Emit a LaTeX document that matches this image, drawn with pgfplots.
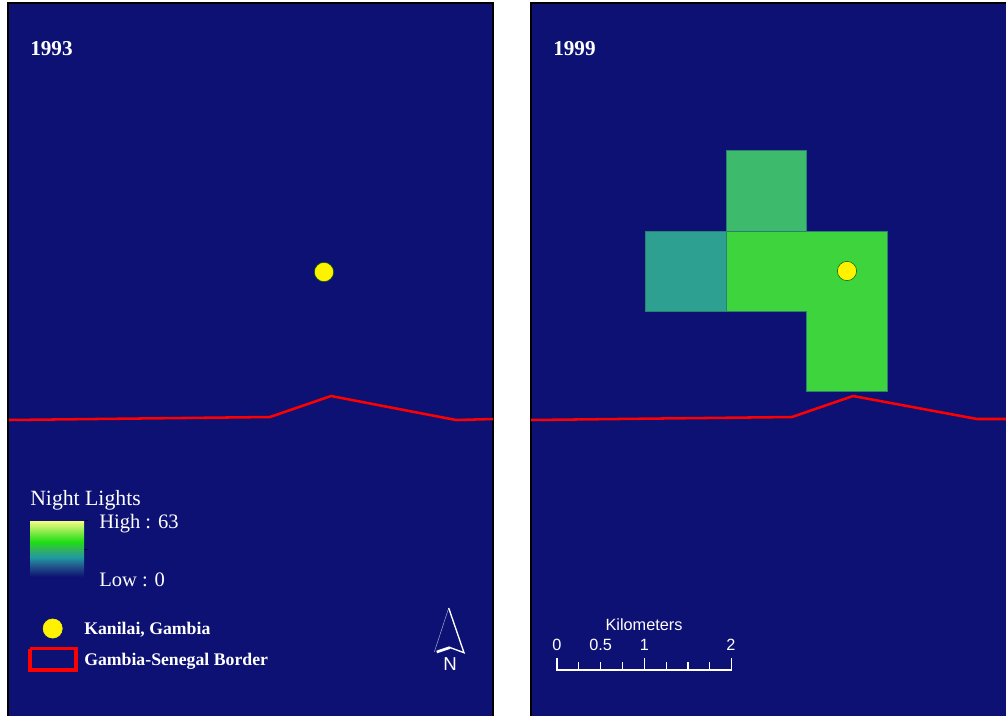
\documentclass[border=0pt]{standalone}
\usepackage{fontspec}
\setmainfont{Liberation Serif}
\newfontfamily\sansf{Liberation Sans}
\usepackage{pgfplots}
\pgfplotsset{compat=1.18}
\definecolor{navy}{RGB}{13,17,115}
\definecolor{cellA}{RGB}{62,212,62}
\definecolor{cellB}{RGB}{62,186,108}
\definecolor{cellC}{RGB}{46,160,146}
\definecolor{edgeB}{RGB}{40,130,110}
\definecolor{rampA}{RGB}{245,250,130}
\definecolor{rampB}{RGB}{30,222,20}
\definecolor{rampC}{RGB}{50,175,100}
\definecolor{rampD}{RGB}{30,155,160}
\definecolor{rampE}{RGB}{35,85,140}
\pgfdeclareverticalshading{nightramp}{100bp}{
  color(0bp)=(navy);
  color(25bp)=(navy);
  color(35bp)=(rampE);
  color(42.5bp)=(rampD);
  color(49bp)=(rampC);
  color(56.5bp)=(rampB);
  color(75bp)=(rampA);
  color(100bp)=(rampA)}
\tikzset{lab/.style={anchor=west,inner sep=0pt,text=white}}
\pgfplotsset{
  panel/.style={
    scale only axis,
    y dir=reverse,
    ymin=3, ymax=718,
    height=536.25pt,
    ticks=none,
    axis line style={black,line width=1.1pt},
    axis background/.style={fill=navy},
    anchor=south west,
    clip=true,
  },
  border/.style={red,line width=1.9pt,no marks,line join=round},
  site/.style={only marks,mark=*,mark size=7.2pt,mark options={fill=yellow,draw=black!60!green,line width=0.4pt}},
}
\begin{document}
\begin{tikzpicture}[x=0.75pt,y=0.75pt]
\path[use as bounding box] (0,0) rectangle (1006,715);
% 1993 panel
\begin{axis}[panel,at={(6pt,-2.25pt)},width=363.75pt,xmin=8,xmax=493]
\addplot[border] coordinates {(9,420) (270,417) (331,396) (456,420) (493,419)};
\addplot[site] coordinates {(324,272)};
\node[lab,font=\fontsize{15.9}{18}\selectfont\bfseries] at (axis cs:30,49) {1993};
\node[lab,font=\fontsize{16.3}{18}\selectfont] at (axis cs:30,500) {Night Lights};
\node[lab,font=\fontsize{15.4}{18}\selectfont] at (axis cs:99,524) {High : 63};
\node[lab,font=\fontsize{15.4}{18}\selectfont] at (axis cs:99,580) {Low : 0};
\node[lab,font=\fontsize{13.3}{15}\selectfont\bfseries] at (axis cs:84,630) {Kanilai, Gambia};
\node[lab,font=\fontsize{13.3}{15}\selectfont\bfseries] at (axis cs:84,661) {Gambia-Senegal Border};
\shade[shading=nightramp] (axis cs:30,521) rectangle (axis cs:84,577);
\addplot[black!60!navy,line width=0.6pt,no marks] coordinates {(84,520.5) (88,520.5)};
\addplot[black!60!navy,line width=0.6pt,no marks] coordinates {(84,549) (88,549)};
\addplot[only marks,mark=*,mark size=7.2pt,mark options={fill=yellow,draw=yellow}] coordinates {(52.7,628.5)};
\addplot[red,line width=2.5pt,no marks] coordinates {(30,648.5) (76,648.5) (76,670) (30,670) (30,648.5)};
% north arrow
\addplot[white!60!navy,line width=0.4pt,no marks] coordinates {(448.7,608) (434.3,652)};
\addplot[white,line width=1pt,no marks] coordinates {(448.7,608) (464,652.7) (450,647.5)};
\addplot[white,line width=2pt,no marks] coordinates {(436.7,652) (450,647.5)};
\node[text=white,inner sep=0pt,font=\sansf\fontsize{14}{16}\selectfont] at (axis cs:450,664.5) {N};
\end{axis}
% 1999 panel
\begin{axis}[panel,at={(398.25pt,-2.25pt)},width=359.25pt,xmin=531,xmax=1010]
\addplot[fill=cellB,draw=edgeB,line width=0.4pt] coordinates {(726,150) (806.5,150) (806.5,231) (726,231)} --cycle;
\addplot[fill=cellC,draw=edgeB,line width=0.4pt] coordinates {(645,231) (726,231) (726,311.5) (645,311.5)} --cycle;
\addplot[fill=cellA,draw=edgeB,line width=0.4pt] coordinates {(726,231) (887,231) (887,391) (806.5,391) (806.5,311.5) (726,311.5)} --cycle;
\addplot[border] coordinates {(531,420) (792,417) (853,396) (977,419) (1010,419)};
\addplot[site] coordinates {(847,271)};
\node[lab,font=\fontsize{15.9}{18}\selectfont\bfseries] at (axis cs:553,49) {1999};
% scale bar
\addplot[white,line width=0.9pt,no marks] coordinates {(557,658) (557,670) (578.8,670) (578.8,662) (578.8,670) (600.6,670) (600.6,662) (600.6,670) (622.5,670) (622.5,662) (622.5,670) (644.3,670) (644.3,658) (644.3,670) (666.1,670) (666.1,662) (666.1,670) (688,670) (688,662) (688,670) (709.8,670) (709.8,662) (709.8,670) (731.7,670) (731.7,658)};
\node[text=white,font=\sansf\fontsize{12.2}{14}\selectfont] at (axis cs:557,644.5) {0};
\node[text=white,font=\sansf\fontsize{12.2}{14}\selectfont] at (axis cs:600.6,644.5) {0.5};
\node[text=white,font=\sansf\fontsize{12.2}{14}\selectfont] at (axis cs:644.3,644.5) {1};
\node[text=white,font=\sansf\fontsize{12.2}{14}\selectfont] at (axis cs:731,644.5) {2};
\node[text=white,font=\sansf\fontsize{12.2}{14}\selectfont] at (axis cs:644,625) {Kilometers};
\end{axis}
\end{tikzpicture}
\end{document}
